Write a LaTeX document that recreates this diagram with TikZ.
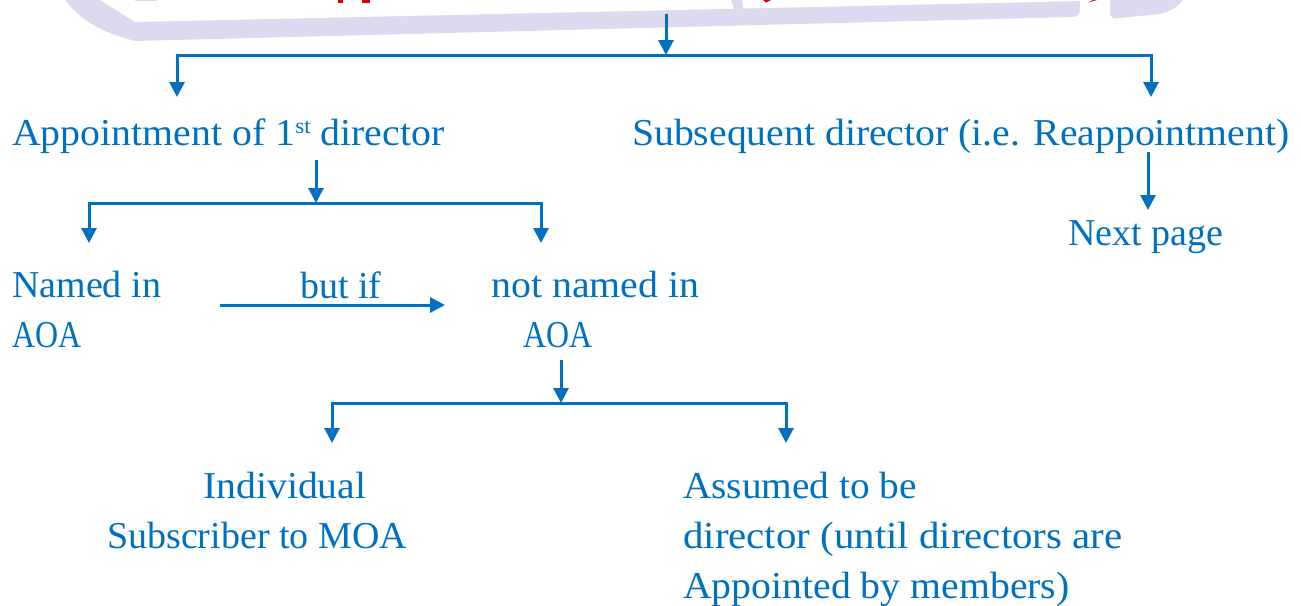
\documentclass[tikz,border=0pt]{standalone}
\usepackage{fontspec}
\setmainfont{Liberation Serif}
\usetikzlibrary{arrows.meta}
\definecolor{txtblue}{HTML}{0070C0}
\definecolor{bandlav}{HTML}{DDDAF0}
\definecolor{titlered}{HTML}{DD0000}
\newcommand{\ordsup}[1]{\raisebox{12pt}{\fontsize{22}{22}\selectfont #1}}
% horizontal stretch of one line of text
\newcommand{\xs}[2]{\scalebox{#1}[1]{#2}}
\begin{document}
\begin{tikzpicture}[x=1pt,y=-1pt,
  lbl/.style={text=txtblue,font=\fontsize{38}{50}\selectfont,inner sep=0pt,anchor=base west,align=left},
  link/.style={draw=txtblue,line width=3pt,-{Triangle[length=15pt,width=15pt]}},
  wire/.style={draw=txtblue,line width=3pt}]
\useasboundingbox (0,0) rectangle (1301,605);

% lavender title frame (lower part)
\fill[bandlav] (64,-2) .. controls (80,22) and (105,33) .. (135,41) -- (1072,17)
  .. controls (1078,17) and (1080,14) .. (1080,9) -- (1080,-2) -- cycle;
\fill[white] (97,-2) -- (135,22) -- (1082,1) -- (1082,-3) -- cycle;
\fill[bandlav] (135,-1) rectangle (157,1);
\fill[bandlav] (731,-1) -- (734,9) -- (743,9) -- (742,-1) -- cycle;
\fill[bandlav,rounded corners=6pt] (1110,-2) -- (1110,19) -- (1150,15) [sharp corners] .. controls (1168,13) and (1178,8) .. (1184,-2) -- cycle;

% red title fragments
\fill[titlered] (338,0) rectangle (343,3);
\fill[titlered] (362,0) rectangle (370,3);
\fill[titlered] (763,0) -- (771,0) -- (766,2.5) -- cycle;
\fill[titlered] (1088,2.5) -- (1097,0) -- (1093,0) -- cycle;

% text blocks (multi-line blocks sit on the baseline of their last line)
\node[lbl] (appt) at (12,145) {\xs{1.048}{Appointment of 1\ordsup{st} director}};
\node[lbl] (subs) at (632,145) {\xs{1.045}{Subsequent director (i.e. Reappointment)}};
\node[lbl] (next) at (1068,245) {Next page};
\node[lbl] (named) at (12,347) {Named in\\\xs{0.84}{AOA}};
\node[lbl] (butif) at (300,298) {but if};
\node[lbl] (notnamed) at (491,347) {\xs{1.05}{not named in}\\\hspace*{32pt}\xs{0.84}{AOA}};
\node[lbl] (indiv) at (107,548) {\hspace*{96pt}\xs{1.045}{Individual}\\Subscriber to MOA};
\node[lbl] (assumed) at (683,598) {\xs{1.035}{Assumed to be}\\\xs{1.076}{director (until directors are}\\\xs{1.046}{Appointed by members)}};

% junction points and arrow ends
\coordinate (top) at (666,14);
\coordinate (j1) at (666,55);
\coordinate (t1) at (177,97);
\coordinate (t2) at (1151,97);
\coordinate (s2) at (316,160);
\coordinate (j2) at (316,203);
\coordinate (t3) at (89,243);
\coordinate (t4) at (541,243);
\coordinate (s3) at (561,360);
\coordinate (j3) at (561,403);
\coordinate (t5) at (332,443);
\coordinate (t6) at (786,443);
\coordinate (s4) at (1148,152);
\coordinate (t7) at (1148,210);
\coordinate (b1) at (220,305);
\coordinate (b2) at (445,305);

% connectors
\draw[link] (top) -- (j1);
\draw[link] (j1) -| (t1);
\draw[link] (j1) -| (t2);
\draw[link] (s2) -- (j2);
\draw[link] (j2) -| (t3);
\draw[link] (j2) -| (t4);
\draw[link] (s3) -- (j3);
\draw[link] (j3) -| (t5);
\draw[link] (j3) -| (t6);
\draw[link] (s4) -- (t7);
\draw[link] (b1) -- (b2);
\end{tikzpicture}
\end{document}
